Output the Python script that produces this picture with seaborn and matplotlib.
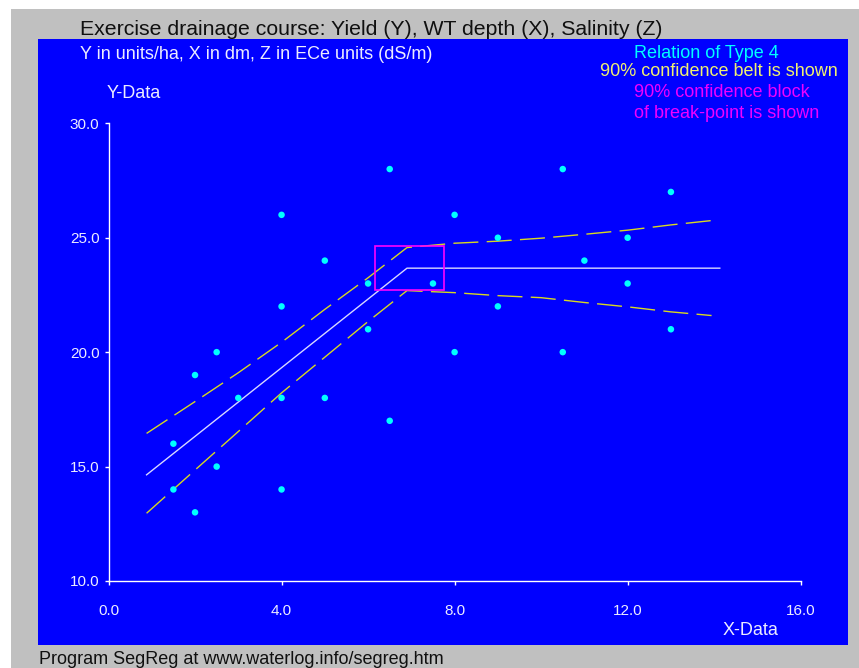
import matplotlib.pyplot as plt
from matplotlib.patches import Rectangle
import seaborn as sns

# observed data: X = water table depth (dm), Y = yield
x_obs = [1.5, 1.5, 2, 2, 2.5, 2.5, 3, 4, 4, 4, 4, 5, 5, 6, 6, 6.5, 6.5,
         7.5, 8, 8, 9, 9, 10.5, 10.5, 11, 12, 12, 13, 13]
y_obs = [16, 14, 19, 13, 20, 15, 18, 26, 22, 18, 14, 24, 18, 23, 21, 28, 17,
         23, 26, 20, 25, 22, 28, 20, 24, 25, 23, 27, 21]

# segmented regression line (break-point near X=6.9)
line_x = [0.88, 6.9, 14.13]
line_y = [14.64, 23.67, 23.67]

# 90% confidence belt
belt_x = [0.88, 2.0, 3.0, 4.0, 5.0, 6.0, 6.9, 8.0, 9.0, 10.0, 11.0, 12.0, 13.0, 13.94]
belt_upper = [16.45, 17.84, 19.1, 20.43, 21.87, 23.25, 24.57, 24.76, 24.85,
              24.98, 25.15, 25.33, 25.56, 25.75]
belt_lower = [12.96, 14.85, 16.53, 18.22, 19.78, 21.34, 22.69, 22.6, 22.47,
              22.38, 22.17, 21.98, 21.76, 21.6]

# 90% confidence block of the break-point
block_x = [6.17, 7.75]
block_y = [22.72, 24.62]

x_ticks = [0, 4, 8, 12, 16]
x_tick_labels = ["0.0", "4.0", "8.0", "12.0", "16.0"]
y_ticks = [10, 15, 20, 25, 30]
y_tick_labels = ["10.0", "15.0", "20.0", "25.0", "30.0"]

W, H = 859, 668
BLUE = "#0000ff"
PALE = "#ececff"

plt.rcParams["font.family"] = ["Liberation Sans", "DejaVu Sans"]


def fx(px):
    return px / W


def fy(py):
    return 1 - py / H


fig = plt.figure(figsize=(W / 100, H / 100), dpi=100)
fig.patch.set_facecolor("#c0c0c0")

# white strips at top / left edge and the blue chart panel
fig.add_artist(Rectangle((0, fy(9)), 1, 9 / H, transform=fig.transFigure,
                         facecolor="white", edgecolor="none", zorder=-2))
fig.add_artist(Rectangle((0, 0), 11 / W, 1, transform=fig.transFigure,
                         facecolor="white", edgecolor="none", zorder=-2))
fig.add_artist(Rectangle((fx(38), fy(645)), (848 - 38) / W, (645 - 39) / H,
                         transform=fig.transFigure, facecolor=BLUE,
                         edgecolor="none", zorder=-1))

ax = fig.add_axes([108.5 / W, 1 - 581 / H, (800.7 - 108.5) / W, (581 - 123.3) / H])
ax.patch.set_visible(False)

# confidence belt
sns.lineplot(x=belt_x, y=belt_upper, ax=ax, sort=False, estimator=None,
             color="#d8d820", lw=1, linestyle=(0, (18, 6)))
sns.lineplot(x=belt_x, y=belt_lower, ax=ax, sort=False, estimator=None,
             color="#d8d820", lw=1, linestyle=(0, (18, 6)))

# regression line
sns.lineplot(x=line_x, y=line_y, ax=ax, sort=False, estimator=None,
             color="#d8d8ff", lw=1)

# break-point block
ax.add_patch(Rectangle((block_x[0], block_y[0]), block_x[1] - block_x[0],
                       block_y[1] - block_y[0], facecolor="none",
                       edgecolor="#ff00ff", lw=1.2, zorder=4))

sns.scatterplot(x=x_obs, y=y_obs, ax=ax, color="#00ffff", s=22,
                edgecolor="none", zorder=5)

ax.set_xlim(0, 16)
ax.set_ylim(10, 30)
ax.set_xticks(x_ticks)
ax.set_xticklabels(x_tick_labels)
ax.set_yticks(y_ticks)
ax.set_yticklabels(y_tick_labels)
ax.set_xlabel("")
ax.set_ylabel("")
for side in ["top", "right"]:
    ax.spines[side].set_visible(False)
for side in ["left", "bottom"]:
    ax.spines[side].set_color("white")
    ax.spines[side].set_linewidth(1)
ax.tick_params(colors="white", labelcolor=PALE, length=3, width=1, labelsize=11)
ax.tick_params(axis="x", pad=13.5)
ax.tick_params(axis="y", pad=3.5)

# texts
fig.text(fx(80), fy(34.7), "Exercise drainage course: Yield (Y), WT depth (X), Salinity (Z)",
         fontsize=15.3, color="#101010", va="baseline")
fig.text(fx(80), fy(59.3), "Y in units/ha, X in dm, Z in ECe units (dS/m)",
         fontsize=13, color=PALE, va="baseline")
fig.text(fx(107), fy(98), "Y-Data", fontsize=13, color=PALE, va="baseline")
fig.text(fx(723), fy(635), "X-Data", fontsize=13, color=PALE, va="baseline")

fig.text(fx(634), fy(58.3), "Relation of Type 4", fontsize=13, color="#00ffff", va="baseline")
fig.text(fx(600), fy(76), "90% confidence belt is shown", fontsize=13,
         color="#f0f070", va="baseline")
fig.text(fx(634), fy(96.7), "90% confidence block", fontsize=13, color="#f000ff", va="baseline")
fig.text(fx(634), fy(118.3), "of break-point is shown", fontsize=13, color="#f000ff", va="baseline")

fig.text(fx(39), fy(664), "Program SegReg at www.waterlog.info/segreg.htm",
         fontsize=13, color="#101010", va="baseline")

fig.savefig("out.png", dpi=100, facecolor=fig.get_facecolor())
